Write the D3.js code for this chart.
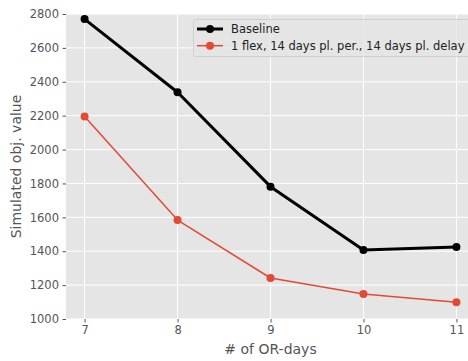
<!DOCTYPE html>
<html>
<head>
<meta charset="utf-8">
<script src="https://cdn.jsdelivr.net/npm/d3@7"></script>
<style>
body { margin: 0; background: #fff; }
text { font-family: "DejaVu Sans", sans-serif; }
</style>
</head>
<body>
<svg id="chart" width="468" height="361"></svg>
<script>
let orDays = [7, 8, 9, 10, 11];
let baseline = [2770, 2338, 1781, 1407, 1425];
let flex = [2195, 1584, 1242, 1148, 1099];
let seriesNames = ["Baseline", "1 flex, 14 days pl. per., 14 days pl. delay"];
let yTicks = [1000, 1200, 1400, 1600, 1800, 2000, 2200, 2400, 2600, 2800];

let margin = {left: 66, top: 14, right: 475, bottom: 319};

let svg = d3.select("#chart");

let x = d3.scaleLinear()
	.domain([6.8, 11.2])
	.range([margin.left, margin.right]);

let y = d3.scaleLinear()
	.domain([1000, 2800])
	.range([margin.bottom, margin.top]);

svg.append("rect")
	.attr("x", margin.left).attr("y", margin.top)
	.attr("width", margin.right - margin.left)
	.attr("height", margin.bottom - margin.top)
	.attr("fill", "#E5E5E5");

// grid
svg.append("g").selectAll("line")
	.data(yTicks)
	.join("line")
		.attr("x1", margin.left).attr("x2", margin.right)
		.attr("y1", d => y(d)).attr("y2", d => y(d))
		.attr("stroke", "#fff").attr("stroke-width", 1);
svg.append("g").selectAll("line")
	.data(orDays)
	.join("line")
		.attr("x1", d => x(d)).attr("x2", d => x(d))
		.attr("y1", margin.top).attr("y2", margin.bottom)
		.attr("stroke", "#fff").attr("stroke-width", 1);

// axes
let xAxis = svg.append("g")
	.attr("transform", `translate(0,${margin.bottom})`)
	.call(d3.axisBottom(x).tickValues(orDays).tickSize(3.5).tickPadding(3.5).tickFormat(d3.format("d")));
let yAxis = svg.append("g")
	.attr("transform", `translate(${margin.left},0)`)
	.call(d3.axisLeft(y).tickValues(yTicks).tickSize(3.5).tickPadding(3.5).tickFormat(d3.format("d")));

[xAxis, yAxis].forEach(a => {
	a.select(".domain").remove();
	a.selectAll(".tick line").attr("stroke", "#555").attr("stroke-width", 1);
	a.selectAll(".tick text")
		.attr("fill", "#555")
		.style("font-size", "11.5px")
		.style("font-family", "DejaVu Sans, sans-serif");
});

// axis labels
svg.append("text")
	.attr("x", (margin.left + margin.right) / 2)
	.attr("y", 354)
	.attr("text-anchor", "middle")
	.attr("fill", "#555")
	.style("font-size", "14px")
	.text("# of OR-days");

svg.append("text")
	.attr("transform", `translate(21,${(margin.top + margin.bottom) / 2}) rotate(-90)`)
	.attr("text-anchor", "middle")
	.attr("fill", "#555")
	.style("font-size", "14px")
	.text("Simulated obj. value");

let line = d3.line()
	.x((d, i) => x(orDays[i]))
	.y(d => y(d));

let series = [
	{name: seriesNames[0], values: baseline, color: "#000000", width: 3},
	{name: seriesNames[1], values: flex, color: "#E24A33", width: 1.5}
];

series.forEach(s => {
	svg.append("path")
		.datum(s.values)
		.attr("d", line)
		.attr("fill", "none")
		.attr("stroke", s.color)
		.attr("stroke-width", s.width)
		.attr("stroke-linejoin", "round");
	svg.append("g").selectAll("circle")
		.data(s.values)
		.join("circle")
			.attr("cx", (d, i) => x(orDays[i]))
			.attr("cy", d => y(d))
			.attr("r", 4)
			.attr("fill", s.color);
});

// legend
let legend = svg.append("g");
legend.append("rect")
	.attr("x", 193.5).attr("y", 19.5)
	.attr("width", 290).attr("height", 37)
	.attr("rx", 2)
	.attr("fill", "#E5E5E5")
	.attr("fill-opacity", 0.8)
	.attr("stroke", "#d0d0d0")
	.attr("stroke-width", 1);

series.forEach((s, i) => {
	let ly = 29 + i * 16.7;
	legend.append("line")
		.attr("x1", 197).attr("x2", 223)
		.attr("y1", ly).attr("y2", ly)
		.attr("stroke", s.color).attr("stroke-width", s.width);
	legend.append("circle")
		.attr("cx", 210).attr("cy", ly).attr("r", 4)
		.attr("fill", s.color);
	legend.append("text")
		.attr("x", 231).attr("y", ly + 4)
		.attr("fill", "#222")
		.style("font-size", "11.5px")
		.text(s.name);
});
</script>
</body>
</html>
